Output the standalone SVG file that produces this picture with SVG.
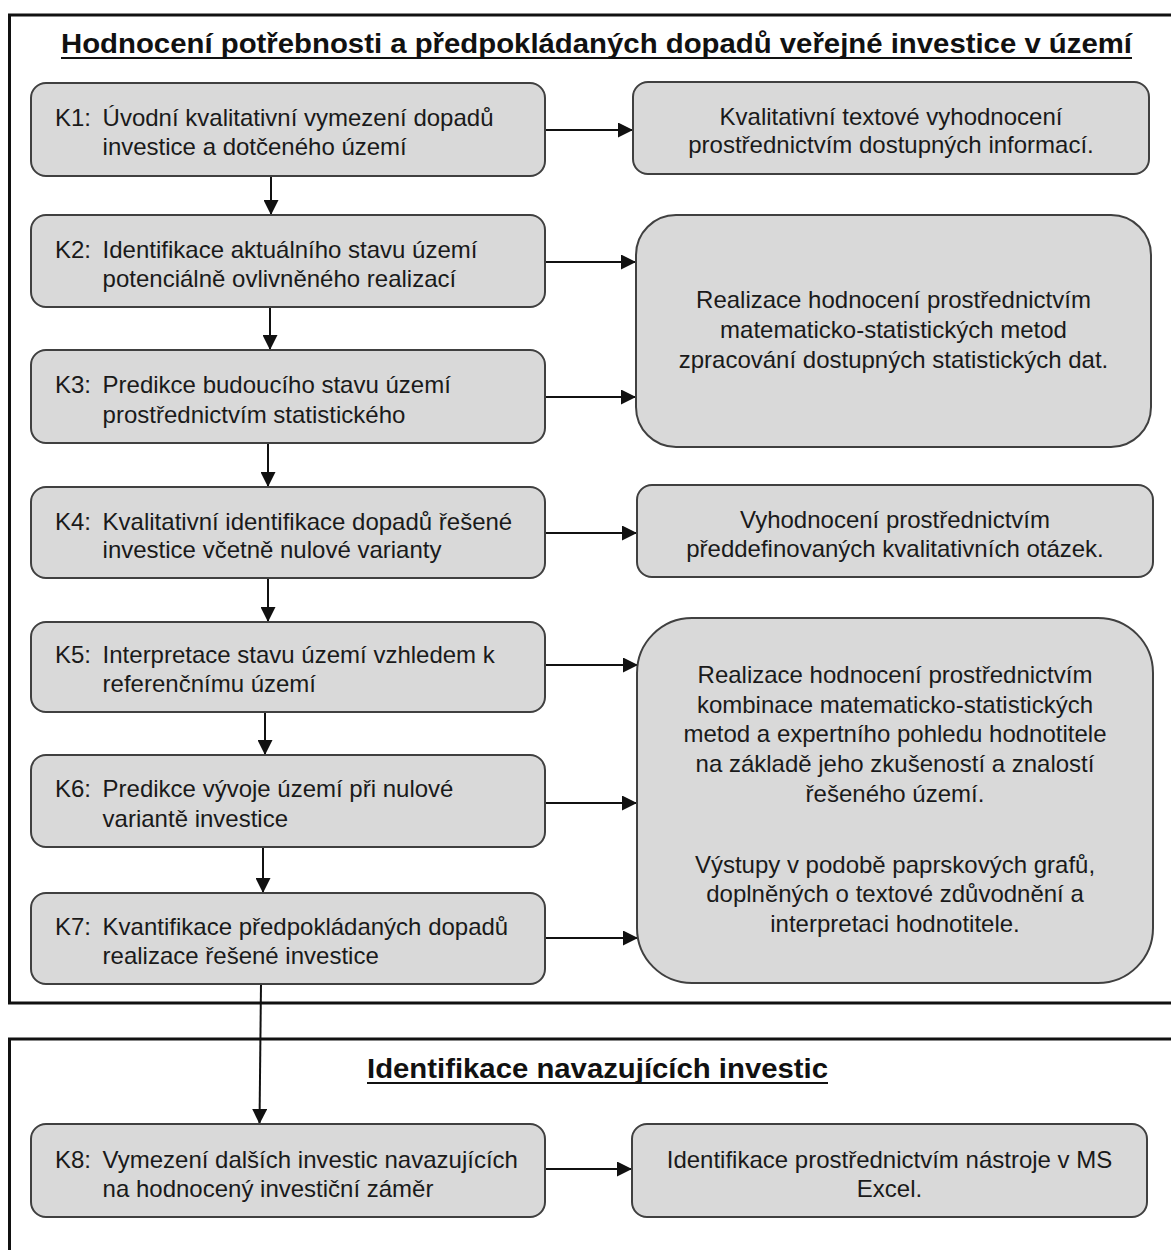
<svg xmlns="http://www.w3.org/2000/svg" width="1171" height="1250" viewBox="0 0 1171 1250">
<style>
.frame{fill:none;stroke:#111;stroke-width:3}
.box{fill:#d9d9d9;stroke:#404040;stroke-width:2}
.t{font-family:"Liberation Sans",Arial,sans-serif;font-size:24px;fill:#1a1a1a}
.c{text-anchor:middle}
.title{font-family:"Liberation Sans",Arial,sans-serif;font-size:28px;font-weight:bold;fill:#111}
.ul{stroke:#111;stroke-width:2.2}
.con{stroke:#111;stroke-width:2;fill:none;marker-end:url(#ah)}
</style>
<defs>
<marker id="ah" markerUnits="userSpaceOnUse" markerWidth="15" markerHeight="15" refX="15" refY="7.5" orient="auto">
<path d="M0,0 L15,7.5 L0,15 z" fill="#111"/>
</marker>
</defs>
<rect width="1171" height="1250" fill="#fff"/>
<g id="frame1"><rect class="frame" x="9.5" y="15" width="1175" height="988"/>
<text class="title" x="61" y="53" textLength="1071" lengthAdjust="spacingAndGlyphs">Hodnocení potřebnosti a předpokládaných dopadů veřejné investice v území</text>
<line class="ul" x1="61" y1="58" x2="1132" y2="58"/></g>
<g id="frame2"><rect class="frame" x="9.5" y="1039" width="1175" height="300"/>
<text class="title" x="367" y="1078" textLength="461" lengthAdjust="spacingAndGlyphs">Identifikace navazujících investic</text>
<line class="ul" x1="367" y1="1083" x2="828" y2="1083"/></g>

<g id="connectors">
<line class="con" x1="545" y1="130" x2="633" y2="130"/>
<line class="con" x1="545" y1="262" x2="636" y2="262"/>
<line class="con" x1="545" y1="397" x2="636" y2="397"/>
<line class="con" x1="545" y1="533" x2="637" y2="533"/>
<line class="con" x1="545" y1="665" x2="638" y2="665"/>
<line class="con" x1="545" y1="803" x2="637" y2="803"/>
<line class="con" x1="545" y1="938" x2="638" y2="938"/>
<line class="con" x1="545" y1="1169" x2="632" y2="1169"/>
<line class="con" x1="271" y1="176" x2="271" y2="215"/>
<line class="con" x1="270" y1="307" x2="270" y2="350"/>
<line class="con" x1="268" y1="443" x2="268" y2="487"/>
<line class="con" x1="268" y1="578" x2="268" y2="622"/>
<line class="con" x1="265" y1="712" x2="265" y2="755"/>
<line class="con" x1="263" y1="847" x2="263" y2="893"/>
<line class="con" x1="261" y1="984" x2="259.5" y2="1124"/>
</g>

<g id="K1"><rect class="box" x="31" y="83" width="514" height="93" rx="15"/>
<text class="t" x="55" y="126">K1:</text><text class="t" x="102.6" y="126">Úvodní kvalitativní vymezení dopadů</text><text class="t" x="102.6" y="155">investice a dotčeného území</text></g>
<g id="K2"><rect class="box" x="31" y="215" width="514" height="92" rx="15"/>
<text class="t" x="55" y="258">K2:</text><text class="t" x="102.6" y="258">Identifikace aktuálního stavu území</text><text class="t" x="102.6" y="287">potenciálně ovlivněného realizací</text></g>
<g id="K3"><rect class="box" x="31" y="350" width="514" height="93" rx="15"/>
<text class="t" x="55" y="393">K3:</text><text class="t" x="102.6" y="393">Predikce budoucího stavu území</text><text class="t" x="102.6" y="423">prostřednictvím statistického</text></g>
<g id="K4"><rect class="box" x="31" y="487" width="514" height="91" rx="15"/>
<text class="t" x="55" y="530">K4:</text><text class="t" x="102.6" y="530">Kvalitativní identifikace dopadů řešené</text><text class="t" x="102.6" y="558">investice včetně nulové varianty</text></g>
<g id="K5"><rect class="box" x="31" y="622" width="514" height="90" rx="15"/>
<text class="t" x="55" y="663">K5:</text><text class="t" x="102.6" y="663">Interpretace stavu území vzhledem k</text><text class="t" x="102.6" y="692">referenčnímu území</text></g>
<g id="K6"><rect class="box" x="31" y="755" width="514" height="92" rx="15"/>
<text class="t" x="55" y="797">K6:</text><text class="t" x="102.6" y="797">Predikce vývoje území při nulové</text><text class="t" x="102.6" y="827">variantě investice</text></g>
<g id="K7"><rect class="box" x="31" y="893" width="514" height="91" rx="15"/>
<text class="t" x="55" y="935">K7:</text><text class="t" x="102.6" y="935">Kvantifikace předpokládaných dopadů</text><text class="t" x="102.6" y="964">realizace řešené investice</text></g>
<g id="K8"><rect class="box" x="31" y="1124" width="514" height="93" rx="15"/>
<text class="t" x="55" y="1168">K8:</text><text class="t" x="102.6" y="1168">Vymezení dalších investic navazujících</text><text class="t" x="102.6" y="1197">na hodnocený investiční záměr</text></g>

<g id="R1"><rect class="box" x="633" y="82" width="516" height="92" rx="15"/>
<text class="t c" x="891" y="125">Kvalitativní textové vyhodnocení</text><text class="t c" x="891" y="153">prostřednictvím dostupných informací.</text></g>
<g id="R2"><rect class="box" x="636" y="215" width="515" height="232" rx="40"/>
<text class="t c" x="893.5" y="308">Realizace hodnocení prostřednictvím</text><text class="t c" x="893.5" y="338">matematicko-statistických metod</text><text class="t c" x="893.5" y="368">zpracování dostupných statistických dat.</text></g>
<g id="R3"><rect class="box" x="637" y="485" width="516" height="92" rx="15"/>
<text class="t c" x="895" y="528">Vyhodnocení prostřednictvím</text><text class="t c" x="895" y="557">předdefinovaných kvalitativních otázek.</text></g>
<g id="R4"><rect class="box" x="637" y="618" width="516" height="365" rx="55"/>
<text class="t c" x="895" y="683">Realizace hodnocení prostřednictvím</text>
<text class="t c" x="895" y="713">kombinace matematicko-statistických</text>
<text class="t c" x="895" y="742">metod a expertního pohledu hodnotitele</text>
<text class="t c" x="895" y="772">na základě jeho zkušeností a znalostí</text>
<text class="t c" x="895" y="802">řešeného území.</text>
<text class="t c" x="895" y="873">Výstupy v podobě paprskových grafů,</text>
<text class="t c" x="895" y="902">doplněných o textové zdůvodnění a</text>
<text class="t c" x="895" y="932">interpretaci hodnotitele.</text></g>
<g id="R5"><rect class="box" x="632" y="1124" width="515" height="93" rx="15"/>
<text class="t c" x="889.5" y="1168">Identifikace prostřednictvím nástroje v MS</text><text class="t c" x="889.5" y="1197">Excel.</text></g>
</svg>
